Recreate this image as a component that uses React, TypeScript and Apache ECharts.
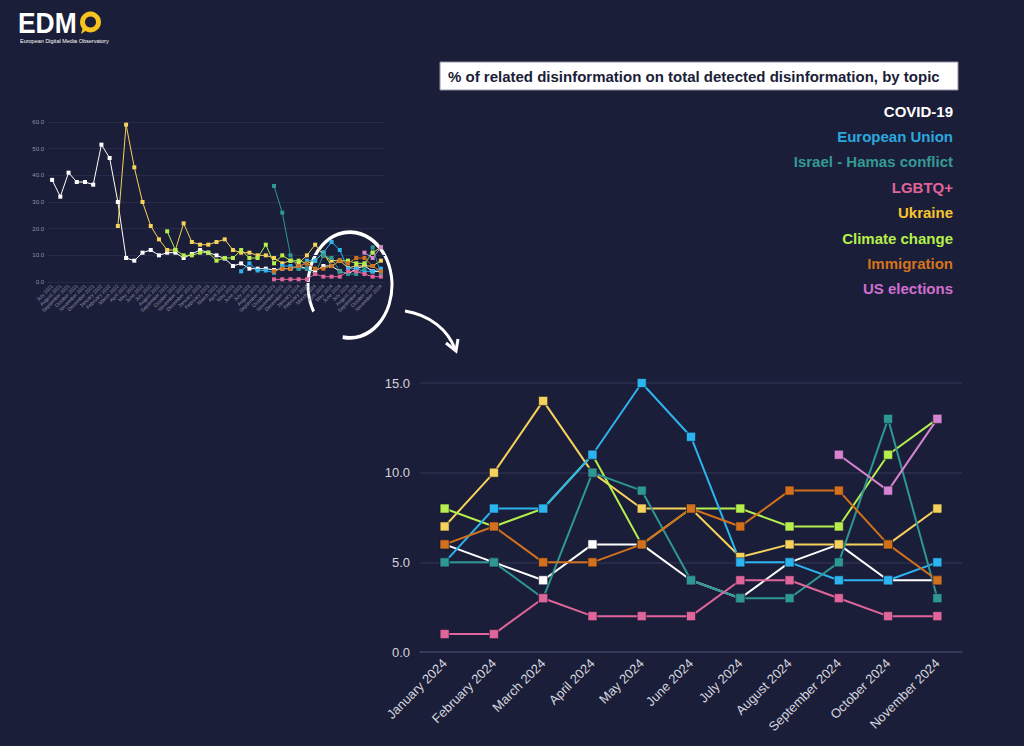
import React, { useEffect, useRef } from "react";
import * as echarts from "echarts";

const BG = "#1b1e38";
const FONT = "'Liberation Sans', Arial, Helvetica, sans-serif";

// Categories
const historyMonths = [
  "July 2021", "August 2021", "September 2021", "October 2021", "November 2021", "December 2021",
  "January 2022", "February 2022", "March 2022", "April 2022", "May 2022", "June 2022",
  "July 2022", "August 2022", "September 2022", "October 2022", "November 2022", "December 2022",
  "January 2023", "February 2023", "March 2023", "April 2023", "May 2023", "June 2023",
  "July 2023", "August 2023", "September 2023", "October 2023", "November 2023", "December 2023",
];
const months2024 = [
  "January 2024", "February 2024", "March 2024", "April 2024", "May 2024", "June 2024",
  "July 2024", "August 2024", "September 2024", "October 2024", "November 2024",
];

// Topics
const topics = [
  "COVID-19", "European Union", "Israel - Hamas conflict", "LGBTQ+",
  "Ukraine", "Climate change", "Immigration", "US elections",
];
const lineColors: Record<string, string> = {
  "COVID-19": "#ffffff",
  "European Union": "#2bb4ef",
  "Israel - Hamas conflict": "#2f9793",
  "LGBTQ+": "#df659b",
  "Ukraine": "#f5d25c",
  "Climate change": "#b6ef4d",
  "Immigration": "#d2701c",
  "US elections": "#d683d1",
};
const legendColors: Record<string, string> = {
  "COVID-19": "#ffffff",
  "European Union": "#2aa8df",
  "Israel - Hamas conflict": "#339a95",
  "LGBTQ+": "#e0649a",
  "Ukraine": "#f6c52c",
  "Climate change": "#b5f04b",
  "Immigration": "#d4731c",
  "US elections": "#cf6fd0",
};

// Values, July 2021 - December 2023 (overview chart only)
const covidHistory = [38.3, 32, 41, 37.5, 37.5, 36.5, 51.5, 46.5, 30, 9, 8, 11, 12, 10, 11, 11, 9, 10.5, 12, 11, 10, 8.8, 6, 7, 5, 5, 5, 4.5, 5, 5];
const euHistory = [null, null, null, null, null, null, null, null, null, null, null, null, null, null, null, null, null, null, null, null, null, null, null, 4, 7, 4.3, 4.3, 3.5, 6, 6];
const israelHistory = [null, null, null, null, null, null, null, null, null, null, null, null, null, null, null, null, null, null, null, null, null, null, null, null, null, null, null, 36, 26, 10];
const lgbtqHistory = [null, null, null, null, null, null, null, null, null, null, null, null, null, null, null, null, null, null, null, null, null, null, null, null, null, null, null, 1, 1, 1];
const ukraineHistory = [null, null, null, null, null, null, null, null, 21, 59, 43, 30, 21, 16, 12, 12, 22, 15, 14, 14, 15, 16, 12, 11, 11, 10, 10, 9, 7, 8];
const climateHistory = [null, null, null, null, null, null, null, null, null, null, null, null, null, null, 19, 12, 10, 10, 11, 11, 8, 9, 9, 12, 9, 9, 14, 7, 10, 8];
const immigrationHistory = [null, null, null, null, null, null, null, null, null, null, null, null, null, null, null, null, null, null, null, null, null, null, null, null, null, null, null, 4, 5, 5];
const usHistory = [null, null, null, null, null, null, null, null, null, null, null, null, null, null, null, null, null, null, null, null, null, null, null, null, null, null, null, null, null, null];

// Values, January - November 2024
const covid2024 = [6, 5, 4, 6, 6, 4, 3, 5, 6, 4, 4];
const eu2024 = [5, 8, 8, 11, 15, 12, 5, 5, 4, 4, 5];
const israel2024 = [5, 5, 3, 10, 9, 4, 3, 3, 5, 13, 3];
const lgbtq2024 = [1, 1, 3, 2, 2, 2, 4, 4, 3, 2, 2];
const ukraine2024 = [7, 10, 14, 10, 8, 8, 5.3, 6, 6, 6, 8];
const climate2024 = [8, 7, 8, 11, 6, 8, 8, 7, 7, 11, 13];
const immigration2024 = [6, 7, 5, 5, 6, 8, 7, 9, 9, 6, 4];
const us2024 = [null, null, null, null, null, null, null, null, 11, 9, 13];

const smallTicks = [0, 10, 20, 30, 40, 50, 60];
const mainTicks = [0, 5, 10, 15];

const seriesData: Record<string, { history: (number | null)[]; recent: (number | null)[] }> = {
  "COVID-19": { history: covidHistory, recent: covid2024 },
  "European Union": { history: euHistory, recent: eu2024 },
  "Israel - Hamas conflict": { history: israelHistory, recent: israel2024 },
  "LGBTQ+": { history: lgbtqHistory, recent: lgbtq2024 },
  "Ukraine": { history: ukraineHistory, recent: ukraine2024 },
  "Climate change": { history: climateHistory, recent: climate2024 },
  "Immigration": { history: immigrationHistory, recent: immigration2024 },
  "US elections": { history: usHistory, recent: us2024 },
};

// drawing order (later on top)
const drawOrder = ["COVID-19", "Ukraine", "Climate change", "European Union", "Israel - Hamas conflict", "LGBTQ+", "Immigration", "US elections"];

export default function App() {
  const ref = useRef<HTMLDivElement>(null);
  useEffect(() => {
    if (!ref.current) return;
    const chart = echarts.init(ref.current, null, { renderer: "svg" });
    const allMonths = historyMonths.concat(months2024);

    const series: any[] = [];
    drawOrder.forEach((name) => {
      const d = seriesData[name];
      series.push({
        name,
        type: "line",
        xAxisIndex: 0,
        yAxisIndex: 0,
        data: d.history.concat(d.recent),
        symbol: "rect",
        symbolSize: 4,
        lineStyle: { width: 1, color: lineColors[name] },
        itemStyle: { color: lineColors[name] },
        connectNulls: false,
      });
    });
    drawOrder.forEach((name) => {
      const d = seriesData[name];
      series.push({
        name,
        type: "line",
        xAxisIndex: 1,
        yAxisIndex: 1,
        data: d.recent,
        symbol: "rect",
        symbolSize: 9,
        lineStyle: { width: 2, color: lineColors[name] },
        itemStyle: { color: lineColors[name], borderColor: "rgba(20,22,45,0.55)", borderWidth: 1 },
        connectNulls: false,
      });
    });

    const legendTexts = topics.map((t, i) => ({
      type: "text",
      x: 953,
      y: 111 + i * 25.4,
      style: {
        text: t,
        fill: legendColors[t],
        font: `bold 15px ${FONT}`,
        textAlign: "right",
        textVerticalAlign: "middle",
      },
    }));

    const option: any = {
      animation: false,
      backgroundColor: BG,
      textStyle: { fontFamily: FONT },
      grid: [
        { left: 48, top: 122, width: 337, height: 160 },
        { left: 420, top: 383, width: 542, height: 269 },
      ],
      xAxis: [
        {
          gridIndex: 0,
          type: "category",
          data: allMonths,
          boundaryGap: true,
          axisTick: { show: false },
          axisLine: { show: false },
          axisLabel: { rotate: 45, interval: 0, fontSize: 5, color: "#8e91ab", margin: 3 },
        },
        {
          gridIndex: 1,
          type: "category",
          data: months2024,
          boundaryGap: true,
          axisTick: { show: false },
          axisLine: { show: true, lineStyle: { color: "#3c3f5e", width: 1.5 } },
          axisLabel: { rotate: 45, interval: 0, fontSize: 13, color: "#d4d5df", margin: 9 },
        },
      ],
      yAxis: [
        {
          gridIndex: 0,
          type: "value",
          min: smallTicks[0],
          max: smallTicks[smallTicks.length - 1],
          interval: 10,
          axisLine: { show: false },
          axisTick: { show: false },
          axisLabel: { fontSize: 6, color: "#8e91ab", margin: 4, formatter: (v: number) => v.toFixed(1) },
          splitLine: { lineStyle: { color: "#282b48", width: 1 } },
        },
        {
          gridIndex: 1,
          type: "value",
          min: mainTicks[0],
          max: mainTicks[mainTicks.length - 1],
          interval: 5,
          axisLine: { show: false },
          axisTick: { show: false },
          axisLabel: { fontSize: 13, color: "#d4d5df", margin: 10, formatter: (v: number) => v.toFixed(1) },
          splitLine: { lineStyle: { color: "#2d304e", width: 1.5 } },
        },
      ],
      series,
      graphic: [
        // Logo
        {
          type: "text",
          x: 18,
          y: 9,
          scaleX: 0.88,
          style: { text: "EDM", fill: "#ffffff", font: `900 30px ${FONT}`, lineHeight: 26 },
        },
        {
          type: "ring",
          shape: { cx: 90.5, cy: 22, r: 10.5, r0: 5.5 },
          style: { fill: "#f6c31f" },
        },
        {
          type: "polygon",
          shape: { points: [[83, 27], [87, 30], [81, 34]] },
          style: { fill: "#f6c31f" },
        },
        {
          type: "text",
          x: 20,
          y: 38,
          style: { text: "European Digital Media Observatory", fill: "#ffffff", font: `5.5px ${FONT}` },
        },
        // Title box
        {
          type: "rect",
          shape: { x: 440, y: 62, width: 518, height: 28 },
          style: { fill: "#ffffff", stroke: "#8f92a8", lineWidth: 1 },
        },
        {
          type: "text",
          x: 448,
          y: 76,
          style: {
            text: "% of related disinformation on total detected disinformation, by topic",
            fill: "#1b1e38",
            font: `bold 15px ${FONT}`,
            textVerticalAlign: "middle",
          },
        },
        ...legendTexts,
        // Circle highlight
        {
          type: "arc",
          x: 350,
          y: 285,
          scaleY: 1.26,
          shape: { cx: 0, cy: 0, r: 42, startAngle: (150 * Math.PI) / 180, endAngle: ((360 + 100) * Math.PI) / 180, clockwise: true },
          style: { stroke: "#ffffff", lineWidth: 3, fill: null, strokeNoScale: true },
        },
        // Arrow
        {
          type: "bezierCurve",
          shape: { x1: 405, y1: 311, cpx1: 430, cpy1: 315, cpx2: 448, cpy2: 330, x2: 455, y2: 349 },
          style: { stroke: "#ffffff", lineWidth: 3, fill: null },
        },
        {
          type: "polyline",
          shape: { points: [[446, 343], [456, 351], [458, 339]] },
          style: { stroke: "#ffffff", lineWidth: 3, fill: null },
        },
      ],
    };
    chart.setOption(option);
    return () => chart.dispose();
  }, []);
  return (
    <div
      ref={ref}
      style={{ position: "fixed", left: 0, top: 0, width: 1024, height: 746, background: BG }}
    />
  );
}
